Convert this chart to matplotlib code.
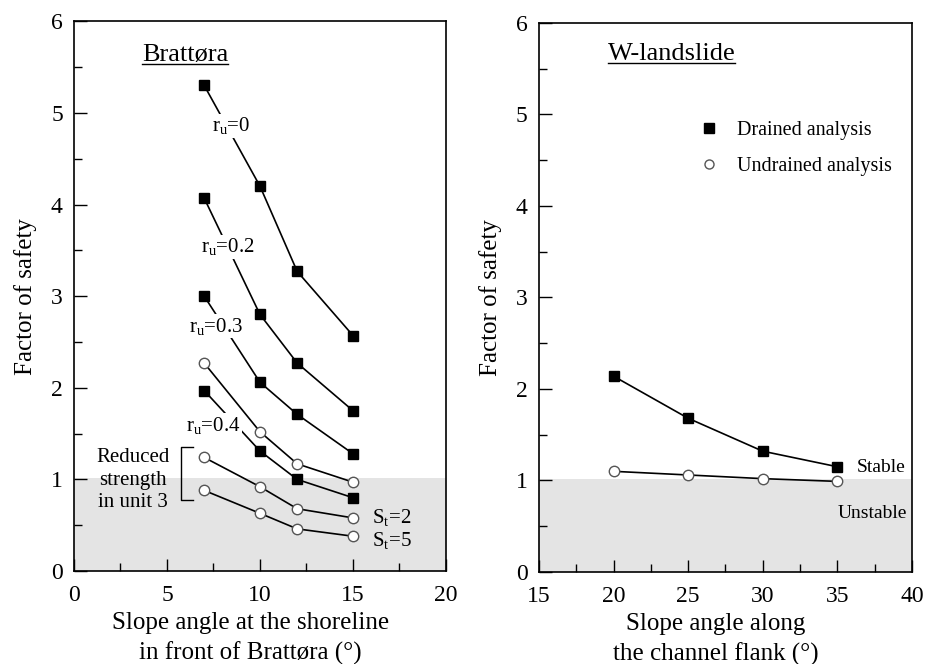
import matplotlib
matplotlib.use('Agg')
import matplotlib.pyplot as plt
from matplotlib.lines import Line2D
from matplotlib.ticker import MultipleLocator

plt.rcParams['font.family'] = ['Liberation Serif', 'DejaVu Serif']
plt.rcParams['mathtext.fontset'] = 'custom'
plt.rcParams['mathtext.rm'] = 'Liberation Serif'
plt.rcParams['mathtext.it'] = 'Liberation Serif'

# Brattøra data
angle_b = [7, 10, 12, 15]
ru0 = [5.30, 4.20, 3.27, 2.57]
ru02 = [4.07, 2.80, 2.27, 1.75]
ru03 = [3.00, 2.06, 1.71, 1.28]
ru04 = [1.97, 1.31, 1.00, 0.80]
und_b = [2.27, 1.52, 1.17, 0.97]
st2 = [1.24, 0.92, 0.68, 0.58]
st5 = [0.88, 0.63, 0.46, 0.38]

# W-landslide data
angle_w = [20, 25, 30, 35]
drained_w = [2.14, 1.68, 1.32, 1.15]
undrained_w = [1.10, 1.06, 1.02, 0.99]

fig = plt.figure(figsize=(9.34, 6.64), dpi=100)
ax1 = fig.add_axes([0.0792, 0.140, 0.3983, 0.828])
ax2 = fig.add_axes([0.577, 0.1386, 0.3994, 0.8268])

shade = '#e4e4e4'
sq = dict(color='black', lw=1.2, marker='s', ms=7.5, mfc='black', mec='black')
ci = dict(color='black', lw=1.2, marker='o', ms=7.5, mfc='white', mec='#555555', mew=1.0)


def style(ax, xlim, xmaj, xmin):
    ax.set_xlim(*xlim)
    ax.set_ylim(0, 6)
    ax.axhspan(0, 1.02, color=shade, zorder=0, lw=0)
    ax.xaxis.set_major_locator(MultipleLocator(xmaj))
    ax.xaxis.set_minor_locator(MultipleLocator(xmin))
    ax.yaxis.set_major_locator(MultipleLocator(1))
    ax.yaxis.set_minor_locator(MultipleLocator(0.5))
    ax.tick_params(which='both', direction='in', top=False, right=False,
                   labelsize=17, width=1.0)
    ax.tick_params(axis='x', which='both', pad=10)
    ax.tick_params(axis='y', which='both', pad=8)
    ax.tick_params(which='major', length=9)
    ax.tick_params(which='minor', length=6)
    for s in ax.spines.values():
        s.set_linewidth(1.2)
    ax.set_ylabel('Factor of safety', fontsize=18, labelpad=10)


style(ax1, (0, 20), 5, 2.5)
style(ax2, (15, 40), 5, 2.5)

# left panel
for ys in [ru0, ru02, ru03, ru04]:
    ax1.plot(angle_b, ys, zorder=3, **sq)
for ys in [und_b, st2, st5]:
    ax1.plot(angle_b, ys, zorder=3, **ci)

lab = dict(fontsize=15, ha='center', va='center', zorder=4,
           bbox=dict(facecolor='white', edgecolor='none', pad=1))
ax1.text(8.45, 4.86, r'r$_\mathrm{u}$=0', **lab)
ax1.text(8.25, 3.54, r'r$_\mathrm{u}$=0.2', **lab)
ax1.text(7.65, 2.67, r'r$_\mathrm{u}$=0.3', **lab)
ax1.text(7.5, 1.59, r'r$_\mathrm{u}$=0.4', **lab)

ax1.text(16.0, 0.58, r'S$_\mathrm{t}$=2', fontsize=15, ha='left', va='center')
ax1.text(16.0, 0.33, r'S$_\mathrm{t}$=5', fontsize=15, ha='left', va='center')

ax1.text(5.15, 0.99, 'Reduced\nstrength\nin unit 3', fontsize=15, ha='right',
         va='center', multialignment='center', linespacing=1.25)
bx = [6.4, 5.75, 5.75, 6.4]
by = [1.35, 1.35, 0.78, 0.78]
ax1.plot(bx, by, color='black', lw=1.0)

ax1.set_xlabel('Slope angle at the shoreline\nin front of Brattøra (°)', fontsize=18,
               linespacing=1.4)
ax1.xaxis.set_label_coords(0.475, -0.075)

# right panel
ax2.plot(angle_w, drained_w, zorder=3, **sq)
ax2.plot(angle_w, undrained_w, zorder=3, **ci)
ax2.text(36.3, 1.14, 'Stable', fontsize=14, ha='left', va='center')
ax2.text(35.0, 0.64, 'Unstable', fontsize=14, ha='left', va='center')
ax2.set_xlabel('Slope angle along\nthe channel flank (°)', fontsize=18,
               linespacing=1.4)
ax2.xaxis.set_label_coords(0.475, -0.075)

handles = [Line2D([], [], ls='none', marker='s', ms=6.5, mfc='black', mec='black'),
           Line2D([], [], ls='none', marker='o', ms=6.5, mfc='white', mec='#555555')]
ax2.legend(handles, ['Drained analysis', 'Undrained analysis'], loc='center left',
           bbox_to_anchor=(0.38, 0.772), frameon=False, fontsize=14.5,
           handletextpad=0.9, labelspacing=0.85, handlelength=1.0)

# underlined panel titles
t1 = ax1.text(3.65, 5.63, 'Brattøra', fontsize=19, ha='left', va='center')
t2 = ax2.text(19.6, 5.66, 'W-landslide', fontsize=19, ha='left', va='center')
fig.canvas.draw()
inv = fig.transFigure.inverted()
for t in [t1, t2]:
    bb = t.get_window_extent()
    (x0, y0), (x1, _) = inv.transform([[bb.x0, bb.y0], [bb.x1, bb.y1]])
    fig.add_artist(Line2D([x0, x1], [y0 + 0.003, y0 + 0.003], color='black',
                          lw=1.0, transform=fig.transFigure))

fig.savefig('out.png', dpi=100)
